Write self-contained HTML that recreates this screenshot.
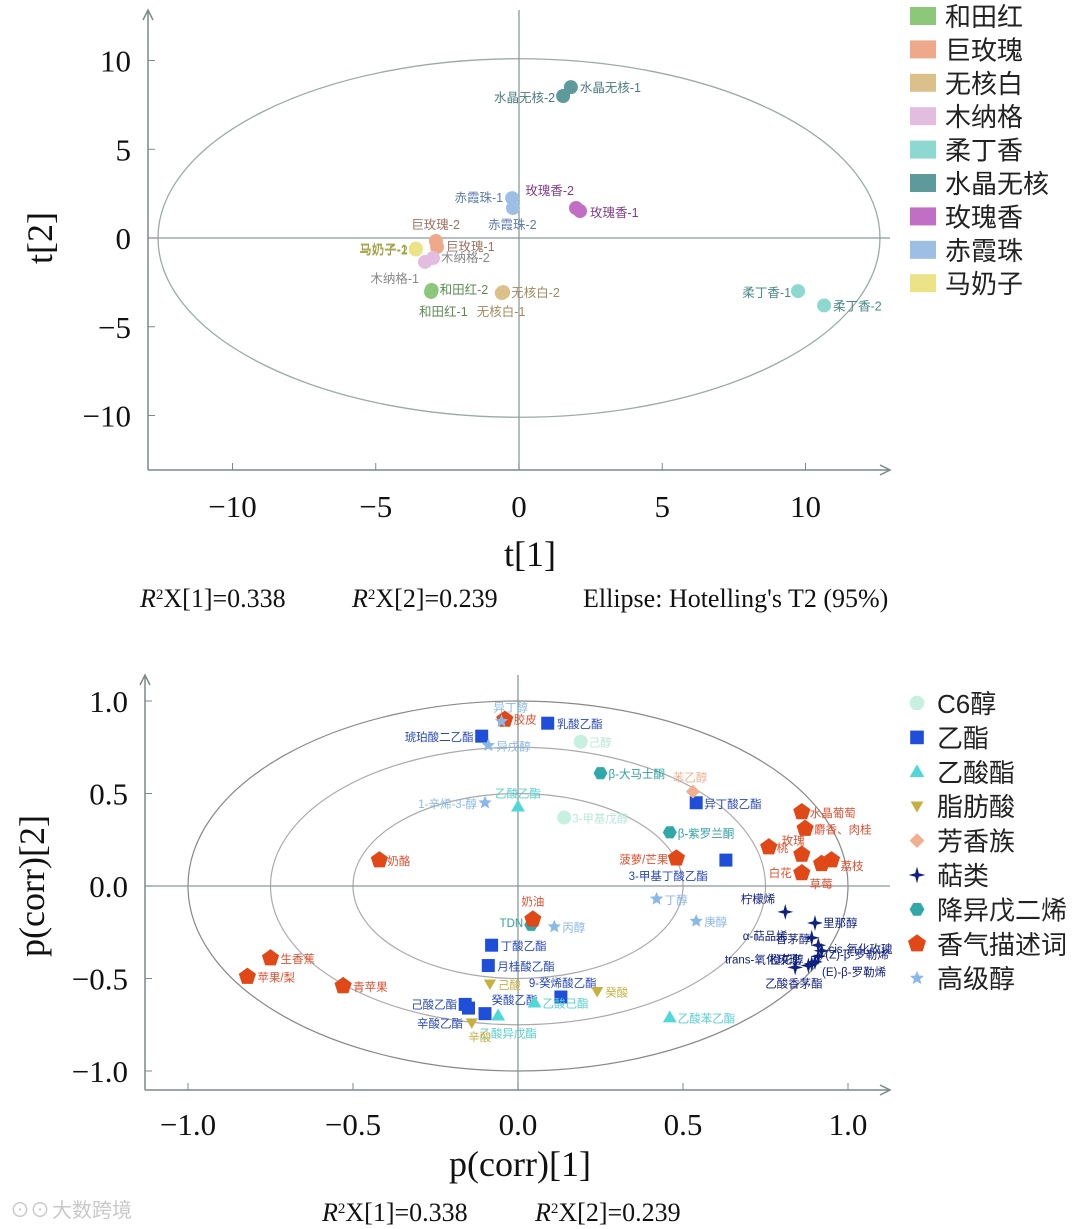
<!DOCTYPE html>
<html><head><meta charset="utf-8"><style>
html,body{margin:0;padding:0;background:#fff}
svg{display:block}
text{font-family:"Liberation Sans","Noto Sans CJK SC",sans-serif}
.serif{font-family:"Liberation Serif","Noto Serif CJK SC",serif}
</style></head><body>
<svg id="c" width="1080" height="1229" viewBox="0 0 1080 1229" xmlns="http://www.w3.org/2000/svg"></svg>
<script>
// ---------- Top score plot data ----------
const topGroups = ["和田红","巨玫瑰","无核白","木纳格","柔丁香","水晶无核","玫瑰香","赤霞珠","马奶子"];
const topColors = ["#8dc77a","#eea98b","#dcc08a","#e3bde0","#8dd8cf","#5e9a9c","#c06fc4","#9dbfe3","#ece386"];
const topLabelColors = ["#5a8a50","#a07060","#a08a60","#888888","#4a8a88","#4a7a80","#803c88","#5a7aa8","#a0a040"];
const topNames = ["水晶无核-1","水晶无核-2","赤霞珠-1","赤霞珠-2","玫瑰香-1","玫瑰香-2","巨玫瑰-1","巨玫瑰-2","马奶子-1","马奶子-2","木纳格-1","木纳格-2","和田红-1","和田红-2","无核白-1","无核白-2","柔丁香-1","柔丁香-2"];
const topGroupIdx = [5,5,7,7,6,6,1,1,8,8,3,3,0,0,2,2,4,4];
const t1 = [1.81,1.54,-0.24,-0.21,2.13,1.99,-2.86,-2.90,-3.6,-3.6,-3.28,-3.0,-3.07,-3.05,-0.6,-0.55,9.74,10.65];
const t2 = [8.5,8.0,2.25,1.69,1.52,1.69,-0.51,-0.17,-0.6,-0.65,-1.35,-1.13,-3.04,-2.93,-3.1,-3.05,-2.99,-3.80];
const topLabelOff = [[9,5,"start"],[-8,6,"end"],[-9,4,"end"],[-25,21,"start"],[10,6,"start"],[-2,-13,"end"],[9,4,"start"],[24,-12,"end"],[-8,5,"end"],[-8,5,"end"],[-6,21,"end"],[8,4,"start"],[-12,24,"start"],[8,4,"start"],[-25,23,"start"],[8,5,"start"],[-7,6,"end"],[9,5,"start"]];
const topXTicks = [-10,-5,0,5,10];
const topYTicks = [10,5,0,-5,-10];

// ---------- Bottom loading plot data ----------
const botGroups = ["C6醇","乙酯","乙酸酯","脂肪酸","芳香族","萜类","降异戊二烯","香气描述词","高级醇"];
const botColors = ["#c6f0e0","#1f4fd8","#4fd8d8","#c8b040","#f0b090","#102080","#30a8a8","#e04818","#8ab8e8"];
const botLabelColors = ["#b8e8d8","#2848c0","#58d0d0","#c8b040","#f0b090","#102080","#30a0a0","#e05030","#8ab8e8"];
const botNames = ["己醇","3-甲基戊醇","琥珀酸二乙酯","乳酸乙酯","异丁酸乙酯","3-甲基丁酸乙酯","丁酸乙酯","月桂酸乙酯","己酸乙酯","癸酸乙酯","辛酸乙酯","9-癸烯酸乙酯","乙酸乙酯","乙酸己酯","乙酸异戊酯","乙酸苯乙酯","己酸","癸酸","辛酸","苯乙醇","柠檬烯","里那醇","α-萜品烯","香茅醇","cis-氧化玫瑰","(Z)-β-罗勒烯","(E)-β-罗勒烯","橙花醇","trans-氧化玫瑰","乙酸香茅酯","β-大马士酮","β-紫罗兰酮","TDN","胶皮","奶酪","菠萝/芒果","桃","水晶葡萄","麝香、肉桂","玫瑰","荔枝","草莓","白花","奶油","生香蕉","苹果/梨","青苹果","异丁醇","异戊醇","1-辛烯-3-醇","丁醇","庚醇","丙醇"];
const botGroupIdx = [0,0,1,1,1,1,1,1,1,1,1,1,2,2,2,2,3,3,3,4,5,5,5,5,5,5,5,5,5,5,6,6,6,7,7,7,7,7,7,7,7,7,7,7,7,7,7,8,8,8,8,8,8];
const p1 = [0.19,0.14,-0.11,0.09,0.54,0.63,-0.08,-0.09,-0.16,-0.15,-0.10,0.13,0.0,0.05,-0.06,0.46,-0.085,0.24,-0.14,0.53,0.81,0.90,0.89,0.91,0.92,0.91,0.90,0.89,0.88,0.84,0.25,0.46,0.04,-0.04,-0.42,0.48,0.76,0.86,0.87,0.86,0.95,0.92,0.86,0.045,-0.75,-0.82,-0.53,-0.05,-0.09,-0.10,0.42,0.54,0.11];
const p2 = [0.78,0.37,0.81,0.88,0.45,0.14,-0.32,-0.43,-0.64,-0.66,-0.69,-0.60,0.43,-0.63,-0.70,-0.71,-0.53,-0.57,-0.74,0.51,-0.14,-0.20,-0.28,-0.32,-0.35,-0.38,-0.41,-0.42,-0.43,-0.44,0.61,0.29,-0.21,0.90,0.14,0.15,0.21,0.40,0.31,0.17,0.14,0.12,0.07,-0.18,-0.39,-0.49,-0.54,0.89,0.76,0.45,-0.07,-0.19,-0.22];
const botLabelOff = [[8,5,"start"],[8,5,"start"],[-8,5,"end"],[9,5,"start"],[8,5,"start"],[-18,20,"end"],[9,5,"start"],[9,5,"start"],[-8,4,"end"],[23,-4,"start"],[-22,14,"end"],[-32,-10,"start"],[0,-9,"middle"],[8,5,"start"],[10,22,"middle"],[8,5,"start"],[8,5,"start"],[8,5,"start"],[8,18,"middle"],[-20,-10,"start"],[-10,-9,"end"],[8,4,"start"],[-24,2,"end"],[-8,-2,"end"],[7,2,"start"],[7,2,"start"],[7,14,"start"],[-8,0,"end"],[-8,-2,"end"],[-30,20,"start"],[8,5,"start"],[8,5,"start"],[-8,2,"end"],[9,4,"start"],[8,5,"start"],[-8,5,"end"],[8,5,"start"],[8,5,"start"],[9,5,"start"],[-20,-10,"start"],[9,10,"start"],[-12,24,"start"],[-10,4,"end"],[0,-14,"middle"],[10,5,"start"],[10,5,"start"],[10,5,"start"],[-8,-10,"start"],[8,5,"start"],[-8,5,"end"],[8,5,"start"],[8,5,"start"],[8,5,"start"]];
const botXTicks = [-1.0,-0.5,0,0.5,1.0];
const botYTicks = [1.0,0.5,0,-0.5,-1.0];
const ringRadii = [1.0,0.75,0.5];

const svg = document.getElementById('c');
const NS = "http://www.w3.org/2000/svg";
function mk(tag, attrs, parent){const e=document.createElementNS(NS,tag);for(const k in attrs)e.setAttribute(k,attrs[k]);(parent||svg).appendChild(e);return e;}
function fmtMinus(v,dec){let s=dec?Math.abs(v).toFixed(dec):String(Math.abs(v));return (v<0?"−":"")+s;}

const tx = v => 519 + v*28.65, ty = v => 238 - v*17.75;
const bx = v => 518 + v*330, by = v => 886 - v*185;

function drawAxes(x0,y0,x1,y1,prefix){
  const g=mk('g',{});
  
  
  mk('line',{x1:x0,y1:y1,x2:x0,y2:y0,stroke:'#7a8a8a','stroke-width':1.5},g);
  mk('line',{x1:x0,y1:y1,x2:x1,y2:y1,stroke:'#7a8a8a','stroke-width':1.5},g);
  mk('path',{d:`M${x0-5},${y0+10} L${x0},${y0} L${x0+5},${y0+10}`,fill:'none',stroke:'#7a8a8a','stroke-width':1.5},g);
  mk('path',{d:`M${x1-10},${y1-5} L${x1},${y1} L${x1-10},${y1+5}`,fill:'none',stroke:'#7a8a8a','stroke-width':1.5},g);
  return g;
}

// ===== TOP CHART =====
const topG = mk('g',{});


drawAxes(148,10,890,470,'score-plot');
const ell=mk('ellipse',{cx:tx(0),cy:ty(0),rx:tx(12.6)-tx(0),ry:ty(0)-ty(10.1),fill:'none',stroke:'#9aaaa6','stroke-width':1.3},topG);

mk('line',{x1:148,y1:ty(0),x2:890,y2:ty(0),stroke:'#8a9a9a','stroke-width':1.3},topG);
mk('line',{x1:tx(0),y1:10,x2:tx(0),y2:470,stroke:'#8a9a9a','stroke-width':1.3},topG);
topXTicks.forEach(v=>{
  mk('line',{x1:tx(v),y1:470,x2:tx(v),y2:463,stroke:'#7a8a8a'},topG);
  const t=mk('text',{x:tx(v),y:517,'text-anchor':'middle','font-size':31,class:'serif',fill:'#111'},topG);t.textContent=fmtMinus(v);
  
});
topYTicks.forEach(v=>{
  mk('line',{x1:148,y1:ty(v),x2:155,y2:ty(v),stroke:'#7a8a8a'},topG);
  const t=mk('text',{x:131,y:ty(v)+11,'text-anchor':'end','font-size':31,class:'serif',fill:'#111'},topG);t.textContent=fmtMinus(v);
  
});
let at=mk('text',{x:530,y:566,'text-anchor':'middle','font-size':36,class:'serif',fill:'#111'});at.textContent='t[1]';

at=mk('text',{x:52,y:238,'text-anchor':'middle','font-size':36,class:'serif',fill:'#111',transform:'rotate(-90 52 238)'});at.textContent='t[2]';

t1.forEach((v,i)=>{
  const gi=topGroupIdx[i];
  const c=mk('circle',{cx:tx(v),cy:ty(t2[i]),r:7,fill:topColors[gi]},topG);
  
  
  const o=topLabelOff[i];
  const l=mk('text',{x:tx(v)+o[0],y:ty(t2[i])+o[1],'text-anchor':o[2],'font-size':12.5,fill:topLabelColors[gi]},topG);
  l.textContent=topNames[i];
  
});
topGroups.forEach((n,i)=>{
  const y=16+i*33.4;
  const r=mk('rect',{x:910,y:y-9,width:26,height:18,fill:topColors[i]});
  
  const t=mk('text',{x:945,y:y+10,'font-size':26,fill:'#222'});t.textContent=n;
  
  
});
function r2line(parts,y){parts.forEach(p=>{const t=mk('text',{x:p[0],y:y,'font-size':26,class:'serif',fill:'#111'});
  
  if(p[2]){t.innerHTML='<tspan font-style="italic">R</tspan><tspan baseline-shift="super" font-size="15">2</tspan>'+p[1];}else t.textContent=p[1];});}
r2line([[140,'X[1]=0.338',1],[352,'X[2]=0.239',1],[583,"Ellipse: Hotelling's T2 (95%)",0]],607);

// ===== BOTTOM CHART =====
const botG = mk('g',{});


drawAxes(145,675,890,1090,'loading-plot');
ringRadii.forEach((r,i)=>{
  const e=mk('ellipse',{cx:bx(0),cy:by(0),rx:bx(r)-bx(0),ry:by(0)-by(r),fill:'none',stroke:i==0?'#888':'#aaa','stroke-width':1.2},botG);
  
});
mk('line',{x1:145,y1:by(0),x2:890,y2:by(0),stroke:'#8a9a9a','stroke-width':1.3},botG);
mk('line',{x1:bx(0),y1:675,x2:bx(0),y2:1090,stroke:'#8a9a9a','stroke-width':1.3},botG);
botXTicks.forEach(v=>{
  mk('line',{x1:bx(v),y1:1090,x2:bx(v),y2:1083,stroke:'#7a8a8a'},botG);
  const t=mk('text',{x:bx(v),y:1135,'text-anchor':'middle','font-size':31,class:'serif',fill:'#111'},botG);t.textContent=fmtMinus(v,1);
  
});
botYTicks.forEach(v=>{
  mk('line',{x1:145,y1:by(v),x2:152,y2:by(v),stroke:'#7a8a8a'},botG);
  const t=mk('text',{x:128,y:by(v)+11,'text-anchor':'end','font-size':31,class:'serif',fill:'#111'},botG);t.textContent=fmtMinus(v,1);
  
});
at=mk('text',{x:520,y:1176,'text-anchor':'middle','font-size':36,class:'serif',fill:'#111'});at.textContent='p(corr)[1]';

at=mk('text',{x:44,y:886,'text-anchor':'middle','font-size':36,class:'serif',fill:'#111',transform:'rotate(-90 44 886)'});at.textContent='p(corr)[2]';


function poly(n,r,cx,cy,rot,inner){let pts=[];const k=inner?2*n:n;for(let i=0;i<k;i++){const a=rot+i*2*Math.PI/k;const rr=inner&&i%2?r*inner:r;pts.push((cx+rr*Math.sin(a)).toFixed(1)+','+(cy-rr*Math.cos(a)).toFixed(1));}return pts.join(' ');}
function marker(gi,cx,cy,parent,s){
  s=s||1;const col=botColors[gi];
  switch(gi){
    case 0: return mk('circle',{cx,cy,r:7*s,fill:col},parent);
    case 1: return mk('rect',{x:cx-6.5*s,y:cy-6.5*s,width:13*s,height:13*s,fill:col},parent);
    case 2: return mk('polygon',{points:poly(3,8*s,cx,cy+1,0),fill:col},parent);
    case 3: return mk('polygon',{points:poly(3,7*s,cx,cy-1,Math.PI),fill:col},parent);
    case 4: return mk('polygon',{points:poly(4,7*s,cx,cy,0),fill:col},parent);
    case 5: return mk('polygon',{points:poly(4,8*s,cx,cy,0,0.3),fill:col},parent);
    case 6: return mk('polygon',{points:poly(6,7*s,cx,cy,Math.PI/6),fill:col},parent);
    case 7: return mk('polygon',{points:poly(5,9*s,cx,cy,0),fill:col},parent);
    case 8: return mk('polygon',{points:poly(5,7*s,cx,cy,0,0.45),fill:col},parent);
  }
}
p1.forEach((v,i)=>{
  const gi=botGroupIdx[i];
  const m=marker(gi,bx(v),by(p2[i]),botG);
  
  
  const o=botLabelOff[i];
  const l=mk('text',{x:bx(v)+o[0],y:by(p2[i])+o[1],'text-anchor':o[2],'font-size':11.5,fill:botLabelColors[gi]},botG);
  l.textContent=botNames[i];
  
});
botGroups.forEach((n,i)=>{
  const y=703+i*34.4;
  const m=marker(i,917,y,svg,1.05);
  
  const t=mk('text',{x:937,y:y+10,'font-size':26,fill:'#222'});t.textContent=n;
  
  
});
r2line([[322,'X[1]=0.338',1],[535,'X[2]=0.239',1]],1221);
const wm=mk('text',{x:52,y:1217,'font-size':20,fill:'#c8c8c8'});wm.textContent='大数跨境';

const wmi=mk('text',{x:10,y:1217,'font-size':20,fill:'#c8c8c8'});wmi.textContent='⊙⊙';

</script>
</body></html>
